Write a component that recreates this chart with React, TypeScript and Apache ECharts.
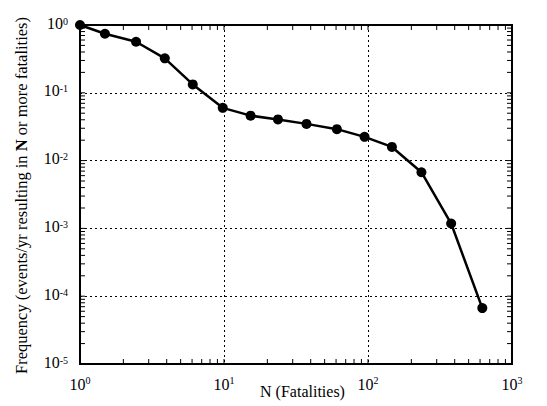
import React, { useEffect, useRef } from "react";
import * as echarts from "echarts";

const nFatalities = [1, 1.49, 2.45, 3.88, 6.07, 9.8, 15.3, 23.7, 37.4, 60.8, 94.6, 146.6, 235, 378, 622];
const frequency = [1, 0.744, 0.567, 0.322, 0.133, 0.06, 0.046, 0.0405, 0.0348, 0.0291, 0.0224, 0.0159, 0.00674, 0.00118, 0.0000667];

const xRange = [1, 1000];
const yRange = [1e-5, 1];
const xDecades = [1, 10, 100];
const yDecades = [1e-5, 1e-4, 1e-3, 1e-2, 1e-1];
const minorMultipliers = [1, 2, 3, 4, 5, 6, 7, 8, 9];

const FONT = "'Liberation Serif', 'Times New Roman', serif";

export default function App() {
  const ref = useRef<HTMLDivElement>(null);
  useEffect(() => {
    if (!ref.current) return;
    const chart = echarts.init(ref.current, undefined, { renderer: "svg" });

    const tickData: number[][] = [];
    xDecades.forEach((d) => minorMultipliers.forEach((m) => tickData.push([m * d, 1, 0])));
    yDecades.forEach((d) => minorMultipliers.forEach((m) => tickData.push([1, m * d, 1])));

    const xRich = {
      b: { fontSize: 16, fontFamily: FONT, color: "#000", lineHeight: 18 },
      s: { fontSize: 10, fontFamily: FONT, color: "#000", verticalAlign: "top" as const, lineHeight: 11 },
    };
    const yRich = {
      b: { fontSize: 16, fontFamily: FONT, color: "#000", lineHeight: 18, padding: [0, 0, 4, 0] },
      s: { fontSize: 10, fontFamily: FONT, color: "#000", verticalAlign: "top" as const, lineHeight: 11 },
    };
    const fmt = (v: number) => `{b|10}{s|${Math.round(Math.log10(v))}}`;

    const L = 5;
    chart.setOption({
      animation: false,
      backgroundColor: "#fff",
      grid: {
        left: 80,
        right: 35,
        top: 25,
        bottom: 42,
        show: true,
        borderColor: "#000",
        borderWidth: 2,
        containLabel: false,
        outerBoundsMode: "none",
      },
      xAxis: {
        type: "log",
        logBase: 10,
        min: xRange[0],
        max: xRange[1],
        name: "N (Fatalities)",
        nameLocation: "middle",
        nameGap: 19,
        nameMoveOverlap: false,
        nameTextStyle: { fontSize: 16, fontFamily: FONT, color: "#000", padding: [0, 0, 0, 13] },
        axisLine: { show: false },
        axisTick: { show: false },
        axisLabel: { formatter: fmt, rich: xRich, margin: 11 },
        splitLine: { show: true, lineStyle: { color: "#000", type: [2, 3], width: 1 } },
      },
      yAxis: {
        type: "log",
        logBase: 10,
        min: yRange[0],
        max: yRange[1],
        name: "Frequency (events/yr resulting in {n|N} or more fatalities)",
        nameLocation: "middle",
        nameGap: 50,
        nameRotate: 90,
        nameMoveOverlap: false,
        nameTextStyle: {
          fontSize: 16.5,
          fontFamily: FONT,
          color: "#000",
          padding: [0, 2, 0, 0],
          rich: { n: { fontSize: 16.5, fontFamily: FONT, fontWeight: "bold", color: "#000" } },
        },
        axisLine: { show: false },
        axisTick: { show: false },
        axisLabel: { formatter: fmt, rich: yRich, margin: 12 },
        splitLine: { show: true, lineStyle: { color: "#000", type: [2, 3], width: 1 } },
      },
      series: [
        {
          type: "custom",
          silent: true,
          clip: false,
          z: 1,
          encode: { x: 0, y: 1 },
          data: tickData,
          renderItem: (params: any, api: any) => {
            const v = api.value(0);
            const w = api.value(1);
            const kind = api.value(2);
            const style = { stroke: "#000", lineWidth: 1 };
            if (kind === 0) {
              const p1 = api.coord([v, yRange[0]]);
              const p2 = api.coord([v, yRange[1]]);
              return {
                type: "group",
                children: [
                  { type: "line", shape: { x1: p1[0], y1: p1[1], x2: p1[0], y2: p1[1] - L }, style },
                  { type: "line", shape: { x1: p2[0], y1: p2[1], x2: p2[0], y2: p2[1] + L }, style },
                ],
              };
            }
            const p1 = api.coord([xRange[0], w]);
            const p2 = api.coord([xRange[1], w]);
            return {
              type: "group",
              children: [
                { type: "line", shape: { x1: p1[0], y1: p1[1], x2: p1[0] + L, y2: p1[1] }, style },
                { type: "line", shape: { x1: p2[0], y1: p2[1], x2: p2[0] - L, y2: p2[1] }, style },
              ],
            };
          },
        },
        {
          type: "line",
          data: nFatalities.map((n, i) => [n, frequency[i]]),
          symbol: "circle",
          symbolSize: 10,
          clip: false,
          z: 5,
          lineStyle: { color: "#000", width: 2.5 },
          itemStyle: { color: "#000" },
        },
      ],
    });
    return () => chart.dispose();
  }, []);
  return <div ref={ref} style={{ position: "fixed", left: 0, top: 0, width: 547, height: 406 }} />;
}
